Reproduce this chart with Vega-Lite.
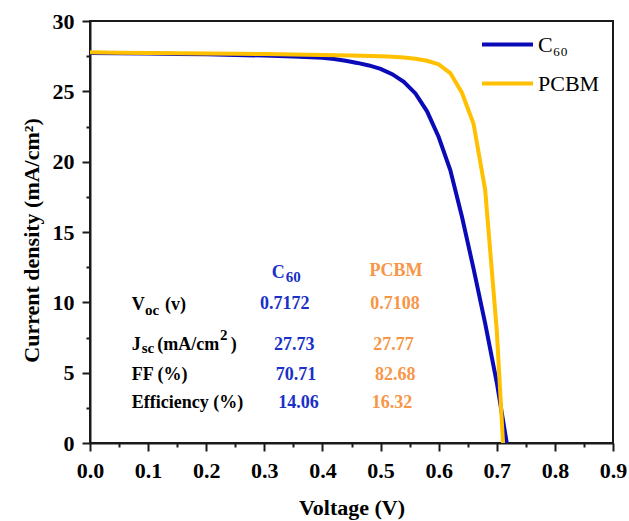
{
  "$schema": "https://vega.github.io/schema/vega-lite/v6.json",
  "autosize": {"type": "none"},
  "width": 523,
  "height": 422,
  "padding": {"left": 90, "top": 21, "right": 16, "bottom": 78},
  "background": "white",
  "datasets": {
    "curves": [
      {"series": "C₆₀", "V": 0, "J": 27.73},
      {"series": "C₆₀", "V": 0.05, "J": 27.71},
      {"series": "C₆₀", "V": 0.1, "J": 27.69},
      {"series": "C₆₀", "V": 0.15, "J": 27.66},
      {"series": "C₆₀", "V": 0.2, "J": 27.63},
      {"series": "C₆₀", "V": 0.25, "J": 27.59},
      {"series": "C₆₀", "V": 0.3, "J": 27.54},
      {"series": "C₆₀", "V": 0.35, "J": 27.47},
      {"series": "C₆₀", "V": 0.4, "J": 27.38},
      {"series": "C₆₀", "V": 0.42, "J": 27.3},
      {"series": "C₆₀", "V": 0.44, "J": 27.17},
      {"series": "C₆₀", "V": 0.46, "J": 27.02},
      {"series": "C₆₀", "V": 0.48, "J": 26.84},
      {"series": "C₆₀", "V": 0.5, "J": 26.6},
      {"series": "C₆₀", "V": 0.52, "J": 26.22},
      {"series": "C₆₀", "V": 0.54, "J": 25.67},
      {"series": "C₆₀", "V": 0.56, "J": 24.85},
      {"series": "C₆₀", "V": 0.58, "J": 23.58},
      {"series": "C₆₀", "V": 0.6, "J": 21.75},
      {"series": "C₆₀", "V": 0.62, "J": 19.4},
      {"series": "C₆₀", "V": 0.64, "J": 16.1},
      {"series": "C₆₀", "V": 0.66, "J": 12.4},
      {"series": "C₆₀", "V": 0.68, "J": 8.5},
      {"series": "C₆₀", "V": 0.7, "J": 4.3},
      {"series": "C₆₀", "V": 0.7172, "J": 0},
      {"series": "PCBM", "V": 0, "J": 27.77},
      {"series": "PCBM", "V": 0.05, "J": 27.75},
      {"series": "PCBM", "V": 0.1, "J": 27.73},
      {"series": "PCBM", "V": 0.15, "J": 27.71},
      {"series": "PCBM", "V": 0.2, "J": 27.69},
      {"series": "PCBM", "V": 0.25, "J": 27.67},
      {"series": "PCBM", "V": 0.3, "J": 27.65},
      {"series": "PCBM", "V": 0.35, "J": 27.62},
      {"series": "PCBM", "V": 0.4, "J": 27.59},
      {"series": "PCBM", "V": 0.45, "J": 27.55},
      {"series": "PCBM", "V": 0.5, "J": 27.49},
      {"series": "PCBM", "V": 0.52, "J": 27.45},
      {"series": "PCBM", "V": 0.54, "J": 27.4},
      {"series": "PCBM", "V": 0.56, "J": 27.32},
      {"series": "PCBM", "V": 0.58, "J": 27.17},
      {"series": "PCBM", "V": 0.6, "J": 26.92},
      {"series": "PCBM", "V": 0.62, "J": 26.3},
      {"series": "PCBM", "V": 0.64, "J": 24.9},
      {"series": "PCBM", "V": 0.66, "J": 22.7},
      {"series": "PCBM", "V": 0.68, "J": 18.0},
      {"series": "PCBM", "V": 0.7, "J": 8.0},
      {"series": "PCBM", "V": 0.7108, "J": 0}
    ]
  },
  "resolve": {"axis": {"x": "independent", "y": "independent"}},
  "layer": [
    {
      "data": {"name": "curves"},
      "mark": {"type": "line", "strokeWidth": 4, "interpolate": "linear"},
      "encoding": {
        "x": {
          "field": "V", "type": "quantitative",
          "scale": {"domain": [0, 0.9], "nice": false, "zero": false},
          "axis": {
            "orient": "bottom",
            "values": [0, 0.1, 0.2, 0.3, 0.4, 0.5, 0.6, 0.7, 0.8, 0.9],
            "format": ".1f",
            "title": "Voltage (V)",
            "labelFlush": false, "labelOverlap": false,
            "tickSize": 8, "tickWidth": 2, "tickColor": "#1a1a1a",
            "domainWidth": 2, "domainColor": "#1a1a1a",
            "labelPadding": 9, "titlePadding": 16,
            "grid": false
          }
        },
        "y": {
          "field": "J", "type": "quantitative",
          "scale": {"domain": [0, 30], "nice": false, "zero": false},
          "axis": {
            "orient": "left",
            "values": [0, 5, 10, 15, 20, 25, 30],
            "title": "Current density (mA/cm²)",
            "labelFlush": false, "labelOverlap": false,
            "tickSize": 8, "tickWidth": 2, "tickColor": "#1a1a1a",
            "domainWidth": 2, "domainColor": "#1a1a1a",
            "labelPadding": 8, "titlePadding": 9, "titleY": 219,
            "grid": false
          }
        },
        "color": {
          "field": "series", "type": "nominal",
          "scale": {"domain": ["C₆₀", "PCBM"], "range": ["#0A0AB8", "#FFC000"]},
          "legend": {
            "orient": "none", "legendX": 390, "legendY": -4,
            "title": null, "padding": 0,
            "symbolType": "stroke", "symbolSize": 2601, "symbolStrokeWidth": 4,
            "labelFont": "Liberation Serif", "labelFontSize": 22, "labelFontWeight": "normal",
            "labelColor": "black", "labelOffset": 3, "rowPadding": -21
          }
        }
      }
    },
    {
      "data": {"values": [
        {"t": "V", "V": 0.0718, "J": 9.467},
        {"t": "(v)", "V": 0.1291, "J": 9.467},
        {"t": "J", "V": 0.0718, "J": 6.63},
        {"t": "(mA/cm", "V": 0.1159, "J": 6.63},
        {"t": ")", "V": 0.2422, "J": 6.63},
        {"t": "FF (%)", "V": 0.0718, "J": 4.5},
        {"t": "Efficiency (%)", "V": 0.0718, "J": 2.47}
      ]},
      "mark": {"type": "text", "font": "Liberation Serif", "fontWeight": "bold", "fontSize": 18, "align": "left", "baseline": "alphabetic", "color": "black"},
      "encoding": {
        "x": {"field": "V", "type": "quantitative", "axis": null},
        "y": {"field": "J", "type": "quantitative", "axis": null},
        "text": {"field": "t"}
      }
    },
    {
      "data": {"values": [
        {"t": "oc", "V": 0.0947, "J": 9.11},
        {"t": "sc", "V": 0.089, "J": 6.39},
        {"t": "2", "V": 0.2238, "J": 7.34}
      ]},
      "mark": {"type": "text", "font": "Liberation Serif", "fontWeight": "bold", "fontSize": 15, "align": "left", "baseline": "alphabetic", "color": "black"},
      "encoding": {
        "x": {"field": "V", "type": "quantitative", "axis": null},
        "y": {"field": "J", "type": "quantitative", "axis": null},
        "text": {"field": "t"}
      }
    },
    {
      "data": {"values": [
        {"t": "C", "V": 0.3128, "J": 11.7},
        {"t": "0.7172", "V": 0.2927, "J": 9.5},
        {"t": "27.73", "V": 0.3167, "J": 6.63},
        {"t": "70.71", "V": 0.3196, "J": 4.5},
        {"t": "14.06", "V": 0.3241, "J": 2.47}
      ]},
      "mark": {"type": "text", "font": "Liberation Serif", "fontWeight": "bold", "fontSize": 18, "align": "left", "baseline": "alphabetic", "color": "#1A30C8"},
      "encoding": {
        "x": {"field": "V", "type": "quantitative", "axis": null},
        "y": {"field": "J", "type": "quantitative", "axis": null},
        "text": {"field": "t"}
      }
    },
    {
      "data": {"values": [
        {"t": "60", "V": 0.337, "J": 11.41}
      ]},
      "mark": {"type": "text", "font": "Liberation Serif", "fontWeight": "bold", "fontSize": 15, "align": "left", "baseline": "alphabetic", "color": "#1A30C8"},
      "encoding": {
        "x": {
          "field": "V", "type": "quantitative",
          "axis": {"orient": "bottom", "values": [0.05, 0.15, 0.25, 0.35, 0.45, 0.55, 0.65, 0.75, 0.85], "labels": false, "domain": false, "title": null, "tickSize": 4, "tickWidth": 2, "tickColor": "#1a1a1a", "grid": false}
        },
        "y": {
          "field": "J", "type": "quantitative",
          "axis": {"orient": "left", "values": [2.5, 7.5, 12.5, 17.5, 22.5, 27.5], "labels": false, "domain": false, "title": null, "tickSize": 4, "tickWidth": 2, "tickColor": "#1a1a1a", "grid": false}
        },
        "text": {"field": "t"}
      }
    },
    {
      "data": {"values": [
        {"t": "PCBM", "V": 0.4809, "J": 11.86},
        {"t": "0.7108", "V": 0.4821, "J": 9.5},
        {"t": "27.77", "V": 0.4876, "J": 6.63},
        {"t": "82.68", "V": 0.4905, "J": 4.5},
        {"t": "16.32", "V": 0.4848, "J": 2.47}
      ]},
      "mark": {"type": "text", "font": "Liberation Serif", "fontWeight": "bold", "fontSize": 18, "align": "left", "baseline": "alphabetic", "color": "#F79646"},
      "encoding": {
        "x": {"field": "V", "type": "quantitative", "axis": null},
        "y": {"field": "J", "type": "quantitative", "axis": null},
        "text": {"field": "t"}
      }
    }
  ],
  "config": {
    "view": {"stroke": "#1a1a1a", "strokeWidth": 2},
    "font": "Liberation Serif",
    "axis": {
      "labelFont": "Liberation Serif", "labelFontSize": 22, "labelFontWeight": "bold", "labelColor": "black",
      "titleFont": "Liberation Serif", "titleFontSize": 22, "titleFontWeight": "bold", "titleColor": "black"
    }
  }
}
